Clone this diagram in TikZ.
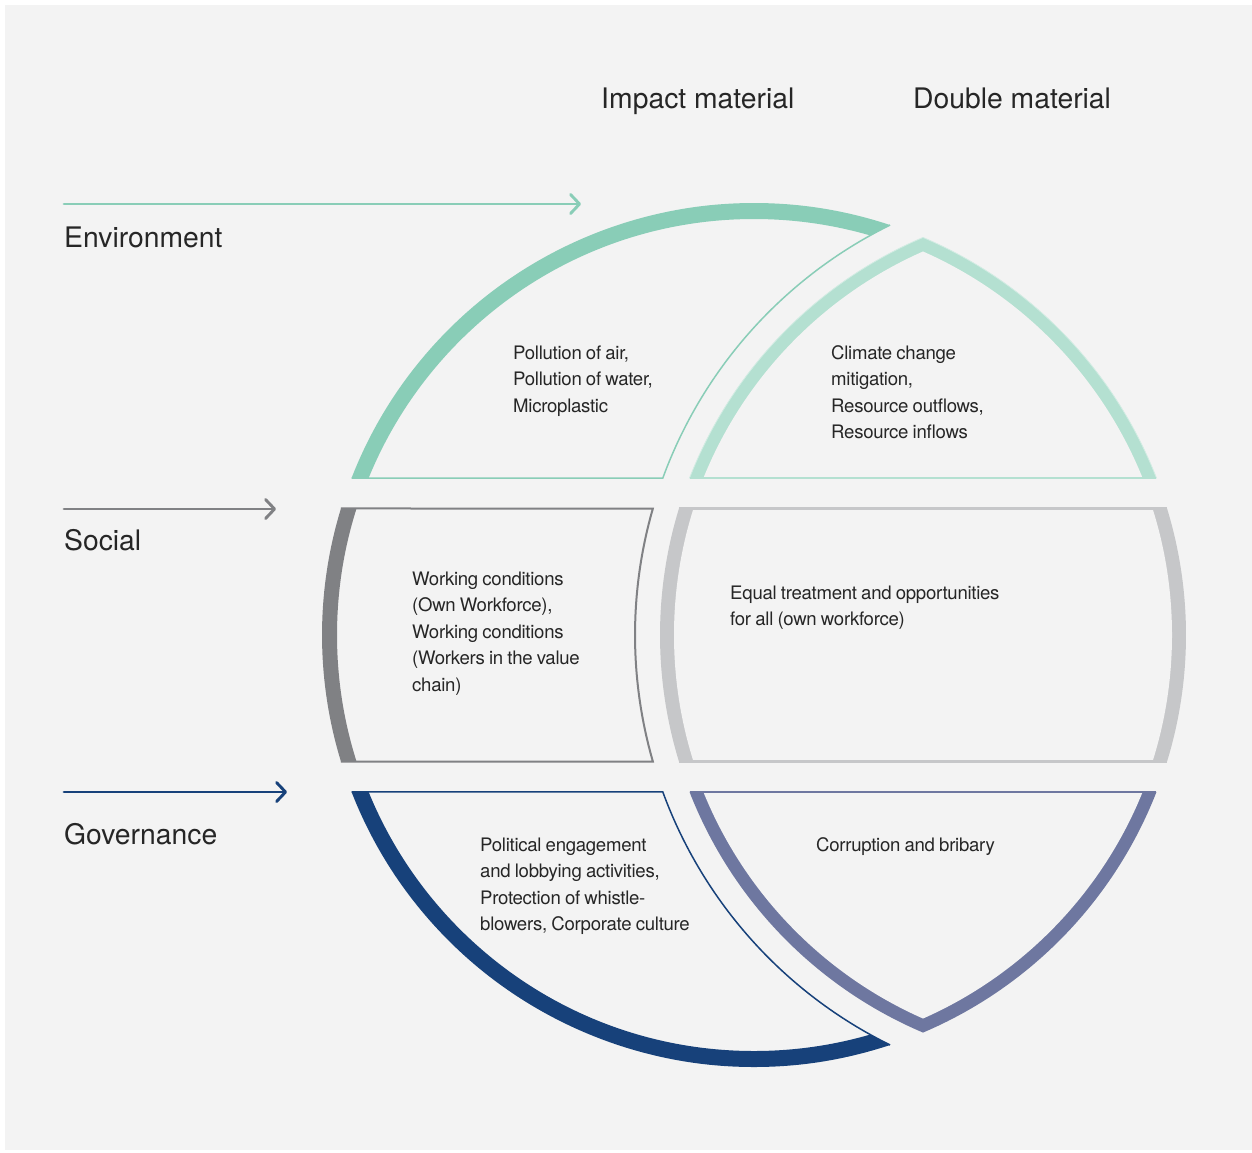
\documentclass[tikz,border=0pt]{standalone}
\usepackage{fontspec}
\setmainfont{TeX Gyre Heros}
\newfontfamily\bodyfont[LetterSpace=-1.5,WordSpace=0.85]{TeX Gyre Heros}
\usetikzlibrary{arrows.meta,calc}

\definecolor{bgcol}{HTML}{F3F3F3}
\definecolor{envdark}{HTML}{89CDB7}
\definecolor{envlight}{HTML}{B4E0D1}
\definecolor{socdark}{HTML}{808184}
\definecolor{soclight}{HTML}{C6C7C9}
\definecolor{govdark}{HTML}{17417A}
\definecolor{govlight}{HTML}{6E77A0}
\definecolor{txt}{HTML}{262626}

% outlines of the six segments (C1 = main circle, C2 = shifted circle)
\def\envLeft{($(C1)+(201.31:432)$) arc[start angle=201.31,end angle=288.37,radius=432]
  arc[start angle=243.78,end angle=200.09,radius=457] -- cycle}
\def\envRight{($(C2)+(201.31:432)$) arc[start angle=201.31,end angle=246.97,radius=432]
  arc[start angle=293.03,end angle=338.69,radius=432] -- cycle}
\def\socLeft{($(C1)+(162.97:432)$) arc[start angle=162.97,end angle=197.03,radius=432]
  -- ($(C2)+(196.07:457)$) arc[start angle=196.07,end angle=163.93,radius=457] -- cycle}
\def\socRight{($(C2)+(162.97:432)$) arc[start angle=162.97,end angle=197.03,radius=432]
  -- ($(C1)+(-17.03:432)$) arc[start angle=-17.03,end angle=17.03,radius=432] -- cycle}
\def\govLeft{($(C1)+(71.63:432)$) arc[start angle=71.63,end angle=158.69,radius=432]
  -- ($(C2)+(159.91:457)$) arc[start angle=159.91,end angle=116.22,radius=457] -- cycle}
\def\govRight{($(C1)+(21.31:432)$) arc[start angle=21.31,end angle=66.97,radius=432]
  arc[start angle=113.03,end angle=158.69,radius=432] -- cycle}

\tikzset{
  % multi-line blocks: the base anchor sits on the last line
  body/.style={font=\bodyfont\fontsize{18.6}{26.5}\selectfont, text=txt,
    align=left, anchor=base west, inner sep=0pt},
  heading/.style={font=\fontsize{28.3}{34}\selectfont, text=txt,
    anchor=base west, inner sep=0pt},
  rowarrow/.style={line width=2.9, line cap=round,
    -{Straight Barb[length=9pt,width=19pt,round]}},
}

\begin{document}
\begin{tikzpicture}[x=1pt,y=-1pt]
  % page and panel
  \fill[white] (0,0) rectangle (1252,1152);
  \fill[bgcol] (5,5) rectangle (1252,1150);

  \coordinate (C1) at (754,635);
  \coordinate (C2) at (1092,635);

  % column headings
  \node[heading] (hImp) at (601,108) {Impact material};
  \node[heading] (hDbl) at (913,108) {Double material};

  % row labels and arrows
  \coordinate (envA) at (64,204);  \coordinate (envB) at (581,204);
  \coordinate (socA) at (64,509);  \coordinate (socB) at (276,509);
  \coordinate (govA) at (64,792);  \coordinate (govB) at (287,792);
  \draw[rowarrow, envdark] (envA) -- (envB);
  \draw[rowarrow, socdark] (socA) -- (socB);
  \draw[rowarrow, govdark] (govA) -- (govB);
  \node[heading] (lEnv) at (64,247) {Environment};
  \node[heading] (lSoc) at (64,550) {Social};
  \node[heading] (lGov) at (64,844) {Governance};

  % ---------- Environment ----------
  \begin{scope}
    \clip \envLeft;
    \fill[envdark, even odd rule] (C1) circle (432) (C1) circle (416);
  \end{scope}
  \draw[envdark, line width=1.5] ($(C2)+(243.78:457)$)
    arc[start angle=243.78,end angle=200.09,radius=457] -- ($(C1)+(201.31:432)$);

  \begin{scope}
    \clip \envRight;
    \fill[envlight] (0,0) rectangle (1252,1152);
    \clip (C1) circle (419);
    \fill[bgcol] (C2) circle (419);
  \end{scope}
  \draw[envlight!60!white, line width=0.8] \envRight;
  \draw[envlight, line width=1.5] ($(C2)+(201.31:432)$) -- ($(C1)+(338.69:432)$);

  % ---------- Social ----------
  \begin{scope}
    \clip \socLeft;
    \fill[socdark, even odd rule] (C1) circle (432) (C1) circle (417);
  \end{scope}
  \draw[socdark, line width=2] ($(C1)+(197.03:432)$) -- ($(C2)+(196.07:457)$)
    arc[start angle=196.07,end angle=163.93,radius=457] -- ($(C1)+(162.97:432)$);

  \begin{scope}
    \clip \socRight;
    \fill[soclight] (0,0) rectangle (1252,1152);
    \clip (C1) circle (418);
    \fill[bgcol] (C2) circle (418);
  \end{scope}
  \draw[soclight, line width=3] ($(C2)+(197.03:432)$) -- ($(C1)+(-17.03:432)$);
  \draw[soclight, line width=3] ($(C2)+(162.97:432)$) -- ($(C1)+(17.03:432)$);

  % ---------- Governance ----------
  \begin{scope}
    \clip \govLeft;
    \fill[govdark, even odd rule] (C1) circle (432) (C1) circle (416);
  \end{scope}
  \draw[govdark, line width=1.5] ($(C1)+(158.69:432)$) -- ($(C2)+(159.91:457)$)
    arc[start angle=159.91,end angle=116.22,radius=457];

  \begin{scope}
    \clip \govRight;
    \fill[govlight] (0,0) rectangle (1252,1152);
    \clip (C1) circle (419);
    \fill[bgcol] (C2) circle (419);
  \end{scope}
  \draw[govlight, line width=2] ($(C2)+(158.69:432)$) -- ($(C1)+(21.31:432)$);

  % ---------- topics (positioned by the baseline of their last line) ----------
  \node[body] (tEnvImp) at (513,412) {Pollution of air,\\Pollution of water,\\Microplastic};
  \node[body] (tEnvDbl) at (831,438.5) {Climate change\\mitigation,\\Resource outflows,\\Resource inflows};
  \node[body] (tSocImp) at (412,691) {Working conditions\\(Own Workforce),\\Working conditions\\(Workers in the value\\chain)};
  \node[body] (tSocDbl) at (730,625.5) {Equal treatment and opportunities\\for all (own workforce)};
  \node[body] (tGovImp) at (480,930.5) {Political engagement\\and lobbying activities,\\Protection of whistle-\\blowers, Corporate culture};
  \node[body] (tGovDbl) at (816,851) {Corruption and bribary};
\end{tikzpicture}
\end{document}
